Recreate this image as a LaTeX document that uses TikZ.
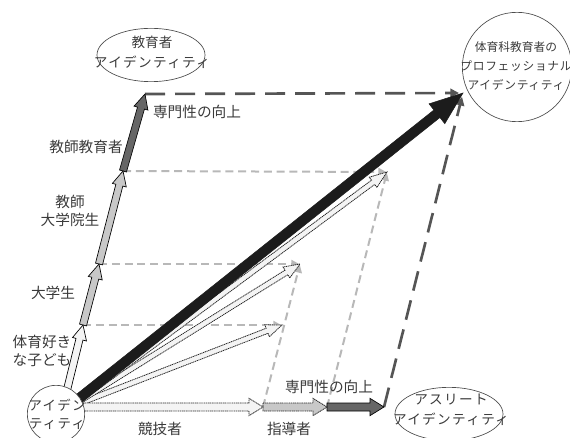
\documentclass[tikz,border=0pt]{standalone}
\usepackage{fontspec}
\newfontfamily\cjk{Noto Sans CJK JP}
\newfontfamily\cjkw[LetterSpace=10]{Noto Sans CJK JP}
\newfontfamily\cjkv[LetterSpace=6]{Noto Sans CJK JP}
\usetikzlibrary{calc,shapes.geometric,arrows.meta}
\definecolor{txt}{HTML}{3A3A3A}
\definecolor{fillA}{HTML}{F4F4F4}
\definecolor{fillB}{HTML}{C8C8C8}
\definecolor{fillC}{HTML}{666666}
\definecolor{darkarr}{HTML}{1C1C1C}
\definecolor{dashL}{HTML}{B8B8B8}
\definecolor{dashD}{HTML}{555555}
% #1 style, #2 from, #3 to, #4 shaft half width, #5 head half width, #6 head length
\newcommand\fatarr[6][]{%
  \coordinate (fa-c) at ($(#3)!#6!(#2)$);
  \draw[#1] ($(#2)!#4!90:(#3)$) -- ($(fa-c)!#4!90:(#3)$) -- ($(fa-c)!#5!90:(#3)$)
    -- (#3) -- ($(fa-c)!#5!-90:(#3)$) -- ($(fa-c)!#4!-90:(#3)$) -- ($(#2)!#4!-90:(#3)$) -- cycle;}
\begin{document}
\begin{tikzpicture}[x=0.75pt,y=-0.75pt,
  lbl/.style={font=\cjk\fontsize{11pt}{13.5pt}\selectfont, text=txt, inner sep=0pt, align=center},
  idt/.style={font=\cjk\fontsize{10.2pt}{15pt}\selectfont, text=txt, inner sep=0pt, align=center},
  idts/.style={font=\cjk\fontsize{8.8pt}{13.9pt}\selectfont, text=txt, inner sep=0pt, align=center},
  ell/.style={draw=black!70, line width=0.5pt, ellipse, inner sep=0pt, minimum width=81pt, minimum height=40pt},
  circ/.style={draw=black!70, line width=0.5pt, circle, inner sep=0pt},
  lightdash/.style={draw=dashL, line width=1.5pt, dash pattern=on 6pt off 3.6pt,
     -{Triangle[length=6pt,width=6pt]}, shorten >=0.5pt},
  darkdash/.style={draw=dashD, line width=2pt, dash pattern=on 15pt off 7.5pt,
     -{Triangle[length=6.5pt,width=6.5pt]}, shorten >=3pt},
  sA/.style={fill=fillA, draw=black, line width=0.5pt},
  sB/.style={fill=fillB, draw=black, line width=0.5pt},
  sC/.style={fill=fillC, draw=black, line width=0.5pt},
  dotA/.style={fill=fillA, draw=black!85, line width=0.6pt, dash pattern=on 0.9pt off 0.5pt},
  dotB/.style={fill=fillB, draw=black!85, line width=0.6pt, dash pattern=on 0.9pt off 0.5pt},
  blk/.style={fill=darkarr, draw=darkarr, line width=0.4pt}
]
\useasboundingbox (0,0) rectangle (570,438);

% identity nodes
\node[ell] (edu) at (151,55) {};
\node[idt] (edut) at (152,52) {教育者\\{\cjkw アイデンティティ}};
\node[circ, minimum size=82pt] (pro) at (517,67) {};
\node[idts] (prot) at (516,66) {体育科教育者の\\{\cjkv プロフェッショナル}\\{\cjkv アイデンティティ}};
\node[ell] (ath) at (449,414) {};
\node[idt] (atht) at (451,410) {{\cjkw アスリート}\\{\cjkw アイデンティティ}};

% coordinates
\coordinate (v0) at (65,398);
\coordinate (v1) at (83,325);
\coordinate (v2) at (99,264);
\coordinate (v3) at (123,171);
\coordinate (v4) at (145,94);
\coordinate (h0) at (66,407);
\coordinate (h1) at (263,407);
\coordinate (h2) at (327,407);
\coordinate (h3) at (384,407);
\coordinate (fo) at (70,407);
\coordinate (b0) at (62,412);
\coordinate (P1) at (282,325);
\coordinate (P2) at (300,264);
\coordinate (P3) at (387,172);
\coordinate (F) at (463,93);

% dashed construction lines
\draw[lightdash] (v1) -- (P1);
\draw[lightdash] (v2) -- (P2);
\draw[lightdash] (h1) -- (P2);
\draw[lightdash] (v3) -- (P3);
\draw[lightdash] (h2) -- (P3);
\draw[darkdash] (v4) -- (F);
\draw[darkdash] (h3) -- (F);

% hollow resultant arrows
\fatarr[dotA]{fo}{P1}{2pt}{4.8pt}{12pt}
\fatarr[dotA]{fo}{P2}{2pt}{4.8pt}{12pt}
\fatarr[dotA]{fo}{P3}{2pt}{4.8pt}{13pt}

% horizontal chain
\fatarr[sC]{h2}{h3}{3pt}{6.5pt}{10.5pt}
\fatarr[dotB]{h1}{h2}{3pt}{6.5pt}{10.5pt}
\fatarr[dotA]{h0}{h1}{3pt}{6.5pt}{10.5pt}

% vertical chain
\fatarr[sC]{v3}{v4}{2.7pt}{5.4pt}{11pt}
\fatarr[sB]{v2}{v3}{2.7pt}{5.4pt}{11pt}
\fatarr[sB]{v1}{v2}{2.7pt}{5.4pt}{11pt}
\fatarr[sA]{v0}{v1}{2.7pt}{5.4pt}{11pt}

% main black arrow
\fatarr[blk]{b0}{F}{3.6pt}{9.5pt}{25pt}

% origin
\node[circ, fill=white, minimum size=43pt] (org) at (56,414) {};
\node[idt, font=\cjkw\fontsize{10pt}{13.5pt}\selectfont] (orgt) at (57,414) {アイデン\\ティティ};

% labels
\node[lbl] (l1) at (42,351) {体育好き\\な子ども};
\node[lbl] (l2) at (53,293) {大学生};
\node[lbl] (l3) at (70,211) {教師\\大学院生};
\node[lbl] (l4) at (86,147) {教師教育者};
\node[lbl] (l5) at (197,112) {専門性の向上};
\node[lbl] (l6) at (160,429) {競技者};
\node[lbl] (l7) at (289,429) {指導者};
\node[lbl] (l8) at (329,387) {専門性の向上};
\end{tikzpicture}
\end{document}
